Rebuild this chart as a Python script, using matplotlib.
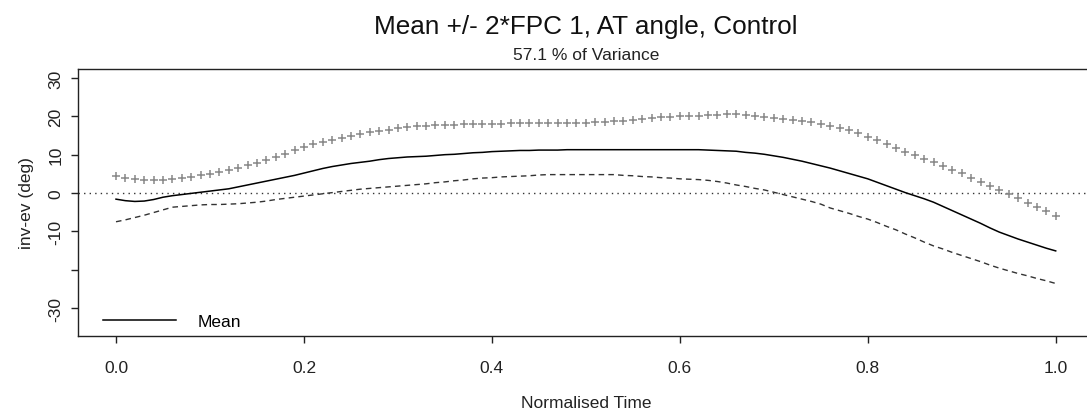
import matplotlib
matplotlib.use("Agg")
import matplotlib.pyplot as plt
from matplotlib.lines import Line2D
import numpy as np

# normalised time grid (101 samples) and curves
time = np.round(np.arange(101) / 100, 2)

mean_curve = [
    -1.6, -2.0, -2.2, -2.1, -1.7, -1.1, -0.7, -0.4, -0.1, 0.2,
    0.5, 0.8, 1.1, 1.6, 2.1, 2.6, 3.1, 3.6, 4.1, 4.6,
    5.2, 5.8, 6.4, 6.9, 7.3, 7.7, 8.0, 8.3, 8.7, 9.0,
    9.2, 9.4, 9.5, 9.6, 9.8, 10.0, 10.1, 10.3, 10.5, 10.6,
    10.8, 10.9, 11.0, 11.1, 11.1, 11.2, 11.2, 11.2, 11.3, 11.3,
    11.3, 11.3, 11.3, 11.3, 11.3, 11.3, 11.3, 11.3, 11.3, 11.3,
    11.3, 11.3, 11.3, 11.2, 11.1, 11.0, 10.9, 10.6, 10.4, 10.1,
    9.7, 9.3, 8.8, 8.3, 7.7, 7.1, 6.5, 5.8, 5.1, 4.4,
    3.7, 2.8, 1.9, 1.0, 0.1, -0.7, -1.5, -2.4, -3.5, -4.6,
    -5.7, -6.8, -7.9, -9.1, -10.2, -11.1, -12.0, -12.8, -13.6, -14.4,
    -15.1,
]

plus_curve = [
    4.4, 4.0, 3.7, 3.4, 3.3, 3.4, 3.7, 4.0, 4.3, 4.6,
    5.0, 5.4, 5.9, 6.5, 7.2, 7.9, 8.7, 9.5, 10.3, 11.2,
    12.1, 12.7, 13.2, 13.8, 14.4, 15.0, 15.4, 15.8, 16.2, 16.5,
    16.9, 17.2, 17.5, 17.6, 17.7, 17.8, 17.8, 17.9, 18.0, 18.0,
    18.1, 18.1, 18.2, 18.2, 18.2, 18.2, 18.2, 18.2, 18.2, 18.2,
    18.3, 18.4, 18.6, 18.8, 18.9, 19.1, 19.3, 19.5, 19.7, 19.8,
    20.0, 20.1, 20.2, 20.3, 20.4, 20.5, 20.5, 20.4, 20.2, 19.9,
    19.6, 19.4, 19.1, 18.8, 18.4, 17.9, 17.4, 16.9, 16.4, 15.6,
    14.7, 13.8, 12.8, 11.8, 10.8, 9.9, 8.9, 8.0, 7.0, 6.0,
    5.1, 4.0, 3.0, 1.9, 0.8, -0.3, -1.4, -2.5, -3.6, -4.8,
    -5.9,
]

minus_curve = [
    -7.5, -7.0, -6.4, -5.8, -5.1, -4.4, -3.7, -3.5, -3.3, -3.1,
    -3.0, -3.0, -2.9, -2.8, -2.6, -2.4, -2.1, -1.7, -1.4, -1.1,
    -0.8, -0.5, -0.2, 0.1, 0.4, 0.7, 1.0, 1.2, 1.4, 1.6,
    1.8, 2.0, 2.2, 2.4, 2.7, 2.9, 3.2, 3.4, 3.7, 3.9,
    4.0, 4.2, 4.3, 4.4, 4.5, 4.7, 4.8, 4.8, 4.8, 4.8,
    4.8, 4.8, 4.8, 4.8, 4.6, 4.5, 4.3, 4.2, 4.0, 3.9,
    3.7, 3.6, 3.5, 3.3, 3.0, 2.6, 2.1, 1.7, 1.2, 0.8,
    0.2, -0.4, -1.0, -1.6, -2.2, -2.9, -3.9, -4.6, -5.3, -6.1,
    -6.8, -7.7, -8.7, -9.6, -10.7, -11.7, -12.8, -13.8, -14.6, -15.5,
    -16.3, -17.1, -17.9, -18.8, -19.6, -20.3, -21.0, -21.6, -22.3, -22.9,
    -23.6,
]

x_ticks = [0.0, 0.2, 0.4, 0.6, 0.8, 1.0]
x_tick_labels = ["0.0", "0.2", "0.4", "0.6", "0.8", "1.0"]
y_ticks = [30, 20, 10, 0, -10, -20, -30]
y_tick_labels = ["30", "20", "10", "0", "-10", "", "-30"]

title = "Mean +/- 2*FPC 1, AT angle, Control"
subtitle = "57.1 % of Variance"

plt.rcParams["font.family"] = ["Liberation Sans", "DejaVu Sans"]
txt = "#222222"

W, H = 1087, 410
fig = plt.figure(figsize=(W / 100, H / 100), dpi=100)

# plot region in pixels: x=0 at 116px, x=1 at 1055.7px, 4% padding either side
x0_px, x1_px = 116.0, 1055.7
sx = x1_px - x0_px
left_px = x0_px - 0.04 * sx
width_px = 1.08 * sx
ax = fig.add_axes([left_px / W, (H - 337) / H, width_px / W, (337 - 70) / H])
ax.set_xlim(-0.04, 1.04)
ax.set_ylim(-37.3, 32.35)

ax.axhline(0, color="#333333", lw=1.0, linestyle=(0, (1, 3)))
ax.plot(time, plus_curve, linestyle="none", marker="+", color="#888888",
        markersize=6.2, markeredgewidth=1.1)
ax.plot(time, minus_curve, color="#333333", lw=1.0, linestyle=(0, (4, 3)))
ax.plot(time, mean_curve, color="black", lw=1.1)

for s in ax.spines.values():
    s.set_linewidth(1.0)
    s.set_color("#222222")

ax.set_xticks(x_ticks)
ax.set_xticklabels(x_tick_labels)
ax.set_yticks(y_ticks)
ax.set_yticklabels(y_tick_labels, rotation=90, va="center")
ax.tick_params(axis="both", length=5, width=1.0, labelsize=12.5,
               labelcolor=txt, color="#222222")
ax.tick_params(axis="x", pad=12)
ax.tick_params(axis="y", pad=6)

ax.set_xlabel("Normalised Time", fontsize=12.5, color=txt, labelpad=15)
ax.set_ylabel("inv-ev (deg)", fontsize=12.5, color=txt, labelpad=10)

handle = Line2D([], [], color="black", lw=1.1)
ax.legend([handle], ["Mean"], loc="lower left", frameon=False,
          fontsize=12.5, handlelength=4.2, handletextpad=1.3,
          borderaxespad=0.0, bbox_to_anchor=(0.017, 0.0))

cx = (left_px + width_px / 2) / W
fig.text(cx, 1 - 34 / H, title, ha="center", va="baseline",
         fontsize=18.8, color="#111111")
fig.text(cx, 1 - 60 / H, subtitle, ha="center", va="baseline",
         fontsize=12.5, color=txt)

fig.savefig("out.png", dpi=100)
